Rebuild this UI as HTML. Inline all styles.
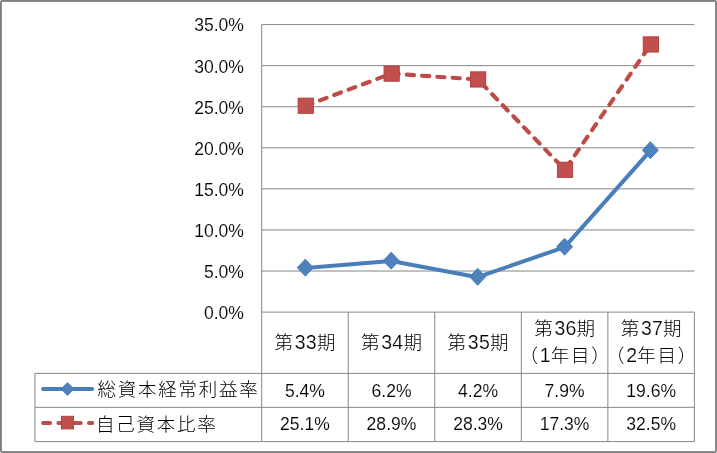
<!DOCTYPE html>
<html lang="ja">
<head>
<meta charset="utf-8">
<title>総資本経常利益率・自己資本比率</title>
<style>
html,body{margin:0;padding:0;background:#fff;}
body{width:717px;height:453px;overflow:hidden;position:relative;}
svg{position:absolute;left:0;top:0;display:block;will-change:transform;}
.n{font-family:"Liberation Sans",sans-serif;font-size:18.5px;fill:#000;}
.j{font-family:"Liberation Sans","Noto Sans CJK JP",sans-serif;font-size:18.5px;font-weight:300;fill:#000;letter-spacing:1.75px;}
.d{stroke:#fff;stroke-width:0.2px;font-size:19.5px;letter-spacing:0.2px;}
</style>
</head>
<body>
<svg width="717" height="453" viewBox="0 0 717 453">

<rect x="0.5" y="0.5" width="716" height="452" rx="1" ry="1" fill="#fff" stroke="#7f7f7f" stroke-width="1"/>
<rect x="1.5" y="1.5" width="714" height="450" fill="none" stroke="#8c8c8c" stroke-width="1"/>
<g stroke="#868686" stroke-width="1" fill="none">
<line x1="261.7" y1="24.60" x2="694.4" y2="24.60"/>
<line x1="261.7" y1="65.67" x2="694.4" y2="65.67"/>
<line x1="261.7" y1="106.74" x2="694.4" y2="106.74"/>
<line x1="261.7" y1="147.81" x2="694.4" y2="147.81"/>
<line x1="261.7" y1="188.89" x2="694.4" y2="188.89"/>
<line x1="261.7" y1="229.96" x2="694.4" y2="229.96"/>
<line x1="261.7" y1="271.03" x2="694.4" y2="271.03"/>
<line x1="261.7" y1="312.10" x2="694.4" y2="312.10"/>
<line x1="261.7" y1="24.6" x2="261.7" y2="441.6"/>
<line x1="348.24" y1="312.1" x2="348.24" y2="441.6"/>
<line x1="434.78" y1="312.1" x2="434.78" y2="441.6"/>
<line x1="521.32" y1="312.1" x2="521.32" y2="441.6"/>
<line x1="607.86" y1="312.1" x2="607.86" y2="441.6"/>
<line x1="694.40" y1="312.1" x2="694.40" y2="441.6"/>
<line x1="34.95" y1="373.4" x2="694.4" y2="373.4"/>
<line x1="34.95" y1="407.35" x2="694.4" y2="407.35"/>
<line x1="34.95" y1="441.6" x2="694.4" y2="441.6"/>
<line x1="34.95" y1="373.4" x2="34.95" y2="441.6"/>
</g>
<g class="n" text-anchor="end" transform="scale(0.95,1)" stroke="#fff" stroke-width="0.12">
<text x="256.84" y="31.50">35.0%</text>
<text x="256.84" y="72.57">30.0%</text>
<text x="256.84" y="113.64">25.0%</text>
<text x="256.84" y="154.71">20.0%</text>
<text x="256.84" y="195.79">15.0%</text>
<text x="256.84" y="236.86">10.0%</text>
<text x="256.84" y="277.93">5.0%</text>
<text x="256.84" y="319.00">0.0%</text>
</g>
<polyline points="305.55,105.72 391.45,73.61 477.90,79.44 564.85,169.79 650.65,44.44" fill="none" stroke="#BE4B48" stroke-width="4.1" stroke-dasharray="7.2,8.1" stroke-linecap="round" stroke-linejoin="round"/>
<g fill="#C0504D" stroke="#B8403E" stroke-width="1">
<rect x="298.15" y="98.12" width="15.2" height="15.2"/>
<rect x="384.05" y="66.01" width="15.2" height="15.2"/>
<rect x="470.50" y="71.84" width="15.2" height="15.2"/>
<rect x="557.45" y="162.19" width="15.2" height="15.2"/>
<rect x="643.25" y="36.84" width="15.2" height="15.2"/>
</g>
<polyline points="305.30,268.04 391.20,261.07 477.65,277.20 564.60,247.11 650.40,150.60" fill="none" stroke="#4A7EBB" stroke-width="4.0" stroke-linecap="round" stroke-linejoin="round"/>
<g fill="#4F81BD" stroke="#4A7EBB" stroke-width="1">
<path d="M305.30,259.14 l8,8.5 l-8,8.5 l-8,-8.5 z"/>
<path d="M391.20,252.17 l8,8.5 l-8,8.5 l-8,-8.5 z"/>
<path d="M477.65,268.30 l8,8.5 l-8,8.5 l-8,-8.5 z"/>
<path d="M564.60,238.21 l8,8.5 l-8,8.5 l-8,-8.5 z"/>
<path d="M650.40,141.70 l8,8.5 l-8,8.5 l-8,-8.5 z"/>
</g>
<g class="j" text-anchor="middle">
<text x="305.84" y="348.80">第<tspan class="d">33</tspan>期</text>
<text x="392.38" y="348.80">第<tspan class="d">34</tspan>期</text>
<text x="478.92" y="348.80">第<tspan class="d">35</tspan>期</text>
<text x="565.46" y="335.30">第<tspan class="d">36</tspan>期</text>
<text x="565.46" y="362.30">（<tspan class="d">1</tspan>年目）</text>
<text x="652.00" y="335.30">第<tspan class="d">37</tspan>期</text>
<text x="652.00" y="362.30">（<tspan class="d">2</tspan>年目）</text>
</g>
<line x1="43" y1="389" x2="92.3" y2="389" stroke="#4A7EBB" stroke-width="3.8" stroke-linecap="round"/>
<path d="M67.5,382.6 l6.3,6.4 l-6.3,6.4 l-6.3,-6.4 z" fill="#4F81BD" stroke="#4A7EBB" stroke-width="1"/>
<line x1="43" y1="423" x2="92.3" y2="423" stroke="#BE4B48" stroke-width="3.8" stroke-linecap="round" stroke-dasharray="7.2,8.1"/>
<rect x="61.5" y="416.3" width="12" height="12.6" fill="#C0504D" stroke="#B8403E" stroke-width="1"/>
<g class="j">
<text x="97.5" y="396">総資本経常利益率</text>
<text x="96" y="431">自己資本比率</text>
</g>
<g class="n" text-anchor="middle" transform="scale(0.95,1)" stroke="#fff" stroke-width="0.12">
<text x="321.02" y="397.0">5.4%</text>
<text x="412.12" y="397.0">6.2%</text>
<text x="503.21" y="397.0">4.2%</text>
<text x="594.31" y="397.0">7.9%</text>
<text x="685.40" y="397.0">19.6%</text>
<text x="321.02" y="430.5">25.1%</text>
<text x="412.12" y="430.5">28.9%</text>
<text x="503.21" y="430.5">28.3%</text>
<text x="594.31" y="430.5">17.3%</text>
<text x="685.40" y="430.5">32.5%</text>
</g>
</svg>
</body>
</html>
